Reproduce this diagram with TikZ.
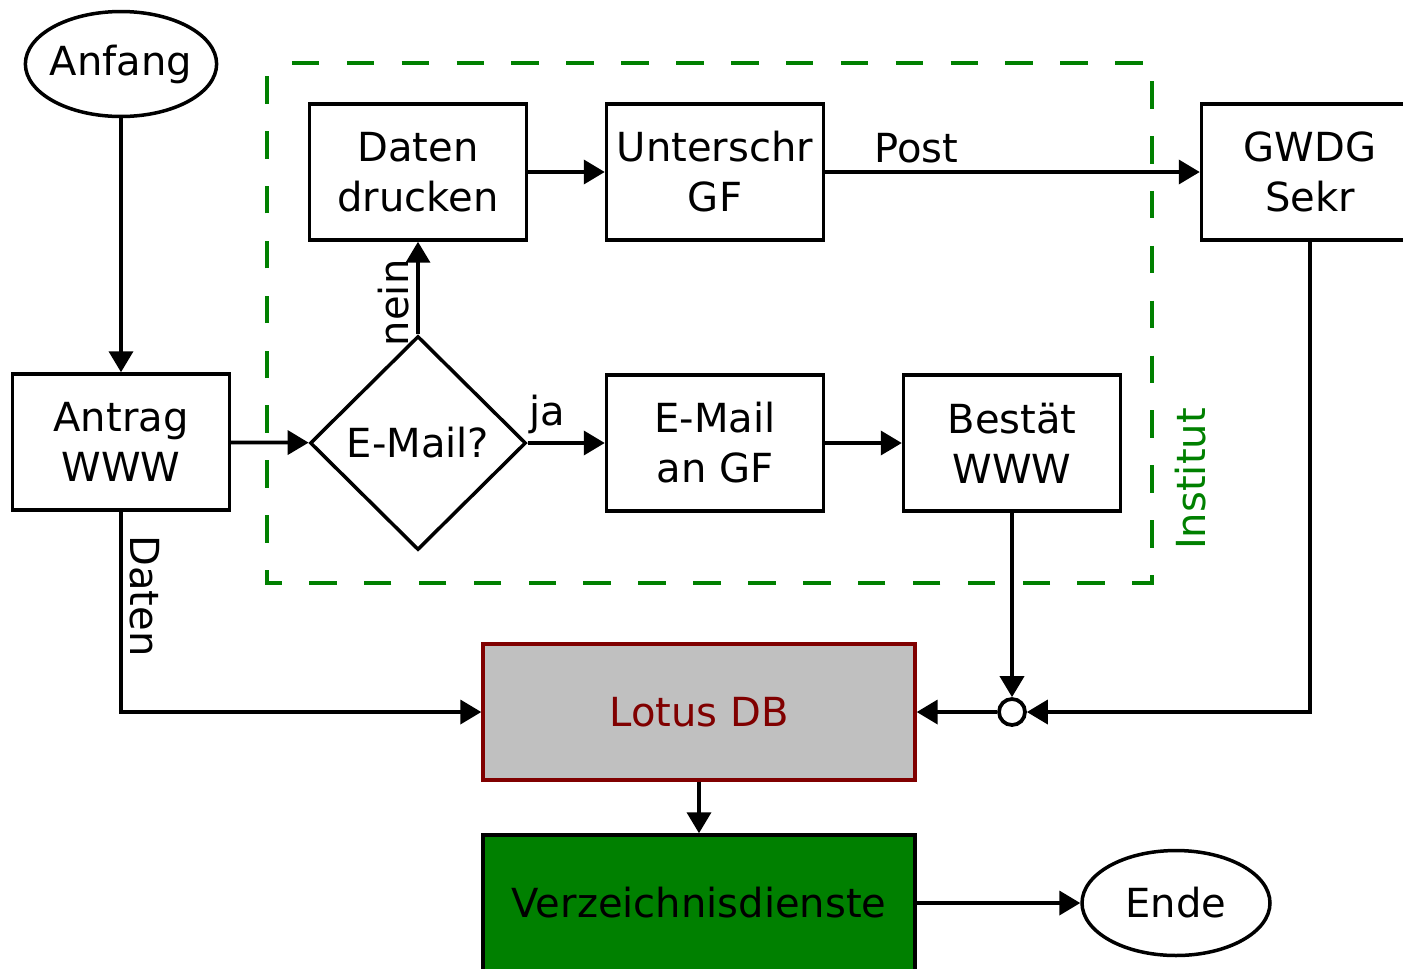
\documentclass[tikz,border=0pt]{standalone}
\usepackage{fontspec}
\setmainfont{DejaVu Sans}
\usepackage{tikz}
\usetikzlibrary{arrows.meta, shapes.geometric, positioning}
\definecolor{colorInstitut}{HTML}{008000}
\definecolor{colorLotusFill}{HTML}{C0C0C0}
\definecolor{colorLotusLine}{HTML}{800000}
\definecolor{colorDienst}{HTML}{008000}

\tikzset{
  flowbox/.style={draw, line width=0.7mm, minimum width=4.34cm, minimum height=2.72cm, inner sep=0pt, align=center},
  widebox/.style={flowbox, minimum width=8.64cm},
  terminal/.style={draw, ellipse, line width=0.7mm, minimum width=3.8cm, minimum height=2.1cm, inner sep=0pt, inner xsep=-2pt},
  decision/.style={draw, diamond, line width=0.7mm, minimum width=4.32cm, minimum height=4.28cm, inner sep=0pt},
  knot/.style={draw, circle, line width=0.75mm, minimum size=0.52cm, inner sep=0pt},
  edgelabel/.style={inner sep=4pt}
}

\begin{document}
\begin{tikzpicture}[x=0.02cm, y=-0.02cm, line width=0.75mm,
    >={Triangle[length=0.42cm,width=0.48cm]},
    font=\fontsize{22.8}{28.5}\selectfont]
    \useasboundingbox (0,0) rectangle (1403,968);

    % Institut
    \draw[colorInstitut, line width=0.8mm, dash pattern=on 0.55cm off 0.548cm, dash phase=0.6cm]
        (267,63) -- (1152,63) -- (1152,583) -- (267,583) -- cycle;
    \node[rotate=90, text=colorInstitut] (institut) at (1191,479) {Institut};

    \node[terminal] (anfang) at (121,64) {Anfang};
    \node[flowbox] (antrag) at (121,442) {Antrag\\WWW};
    \node[decision] (email) at (418,443) {E-Mail?};
    \node[flowbox] (drucken) at (418,172) {Daten\\drucken};
    \node[flowbox] (unterschr) at (715,172) {Unterschr\\GF};
    \node[flowbox] (gwdg) at (1310,172) {GWDG\\Sekr};
    \node[flowbox] (emailgf) at (715,443) {E-Mail\\an GF};
    \node[flowbox] (bestaet) at (1012,443) {Bestät\\WWW};
    \node[knot] (join) at (1012,712) {};
    \node[widebox, fill=colorLotusFill, draw=colorLotusLine, text=colorLotusLine] (lotus) at (699,712) {Lotus DB};
    \node[widebox, fill=colorDienst] (dienste) at (699,903) {Verzeichnisdienste};
    \node[terminal, minimum width=3.76cm] (ende) at (1176,903) {Ende};

    \draw[->] (anfang) -- (antrag);
    \draw[->] (antrag) -- (email);
    \draw[->] (email) -- node[edgelabel, rotate=90, anchor=south, pos=0.34] {nein} (drucken);
    \draw[->] (email) -- node[edgelabel, above, pos=0.25] {ja} (emailgf);
    \draw[->] (drucken) -- (unterschr);
    \draw[->] (unterschr) -- node[edgelabel, above, pos=0.244] {Post} (gwdg);
    \draw[->] (emailgf) -- (bestaet);
    \draw[->] (bestaet) -- (join);
    \draw[->] (gwdg) |- (join);
    \draw[->] (join) -- (lotus);
    \draw[->] (antrag) |- node[edgelabel, rotate=-90, anchor=south, pos=0.21] {Daten} (lotus);
    \draw[->] (lotus) -- (dienste);
    \draw[->] (dienste) -- (ende);
\end{tikzpicture}
\end{document}
